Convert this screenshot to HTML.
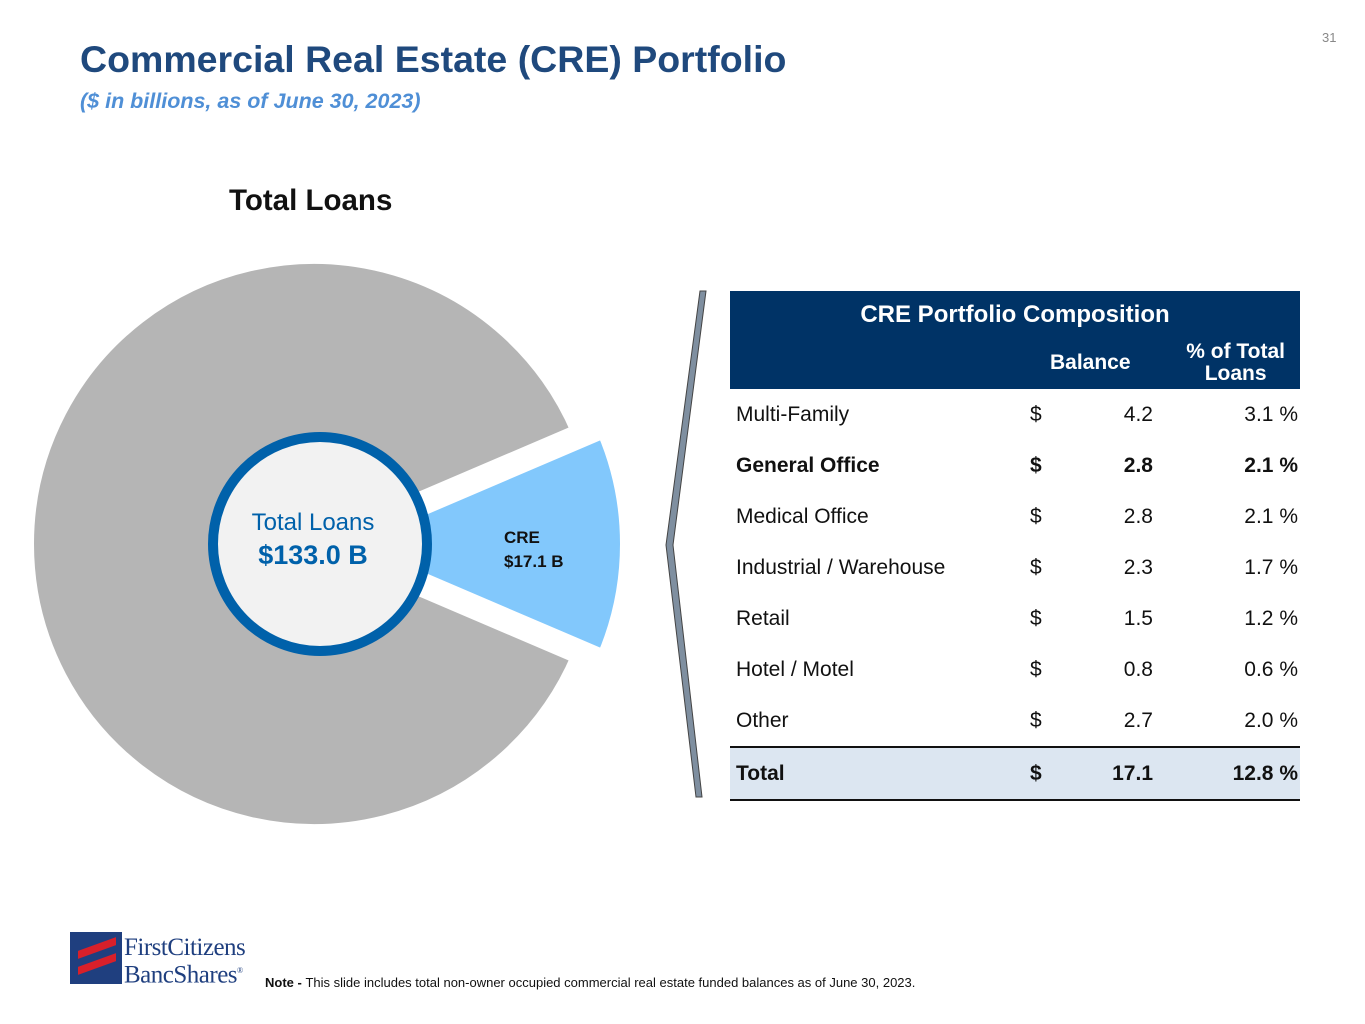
<!DOCTYPE html>
<html><head><meta charset="utf-8"><style>
body{margin:0;width:1365px;height:1024px;background:#fff;position:relative;overflow:hidden;font-family:"Liberation Sans",Arial,sans-serif}
.abs{position:absolute}
table{border-collapse:collapse}
td{font-size:21px;color:#111;height:51px;padding:0}
</style></head><body>
<div class="abs" style="left:1322px;top:30px;font-size:13px;color:#888">31</div>
<div class="abs" style="left:80px;top:38px;font-size:37.5px;font-weight:bold;color:#1f497d">Commercial Real Estate (CRE) Portfolio</div>
<div class="abs" style="left:80px;top:89px;font-size:21.5px;font-weight:bold;font-style:italic;color:#4f8fd6">($ in billions, as of June 30, 2023)</div>
<div class="abs" style="left:229px;top:184px;font-size:29.5px;font-weight:bold;color:#111">Total Loans</div>

<svg class="abs" style="left:0;top:0" width="720" height="850">
<g id="pie"></g>
<circle cx="320" cy="544" r="107" fill="#f2f2f2" stroke="#0061aa" stroke-width="10"/>
<text x="313" y="530" text-anchor="middle" font-size="24" fill="#0061aa">Total Loans</text>
<text x="313" y="564" text-anchor="middle" font-size="27" font-weight="bold" fill="#0061aa">$133.0 B</text>
<text x="504" y="543" font-size="17" font-weight="bold" fill="#111">CRE</text>
<text x="504" y="567" font-size="17" font-weight="bold" fill="#111">$17.1 B</text>
<polygon points="700,291 706,291 673,545 702,797 696,797 666,545" fill="#7f8fa0" stroke="#444" stroke-width="1"/>
</svg>

<div class="abs" style="left:730px;top:291px;width:570px;height:98px;background:#003366;color:#fff">
<div style="position:absolute;left:0;width:570px;top:10px;text-align:center;font-size:24px;font-weight:bold">CRE Portfolio Composition</div>
<div style="position:absolute;left:320px;top:60px;font-size:21px;font-weight:bold">Balance</div>
<div style="position:absolute;right:15px;top:50px;font-size:21px;font-weight:bold;text-align:center;line-height:22px">% of Total<br>Loans</div>
</div>
<table class="abs" style="left:730px;top:389px;width:570px" id="tbl"></table>

<div class="abs" style="left:70px;top:932px;width:52px;height:52px;background:#1f3f7f">
<div style="position:absolute;left:8px;top:12px;width:38px;height:8px;background:#d8202a;transform:skewY(-20deg)"></div>
<div style="position:absolute;left:8px;top:28px;width:38px;height:8px;background:#d8202a;transform:skewY(-20deg)"></div>
</div>
<div class="abs" style="left:124px;top:936px;font-family:'Liberation Serif',serif;font-size:25px;line-height:23px;color:#1f3f7f;letter-spacing:-0.5px">FirstCitizens<br>BancShares<sup style="font-size:8px">®</sup></div>
<div class="abs" style="left:265px;top:975px;font-size:13px;color:#111"><b>Note - </b>This slide includes total non-owner occupied commercial real estate funded balances as of June 30, 2023.</div>

<script>
const pieLabels=["CRE","Other Loans"];
const pieValues=[17.1,115.9];
const rowNames=["Multi-Family","General Office","Medical Office","Industrial / Warehouse","Retail","Hotel / Motel","Other","Total"];
const balances=["4.2","2.8","2.8","2.3","1.5","0.8","2.7","17.1"];
const pcts=["3.1","2.1","2.1","1.7","1.2","0.6","2.0","12.8"];

const NS="http://www.w3.org/2000/svg";
const g=document.getElementById('pie');
const cx=314,cy=544,R=287;
const total=pieValues.reduce((a,b)=>a+b,0);
let start=-pieValues[0]/total*Math.PI;
pieValues.forEach((v,i)=>{
  const a=v/total*2*Math.PI, end=start+a, mid=start+a/2;
  const off=i===0?26:0;
  const ox=cx+off*Math.cos(mid), oy=cy+off*Math.sin(mid);
  const x1=ox+R*Math.cos(start),y1=oy+R*Math.sin(start),x2=ox+R*Math.cos(end),y2=oy+R*Math.sin(end);
  const p=document.createElementNS(NS,'path');
  p.setAttribute('d',`M${ox},${oy}L${x1},${y1}A${R},${R} 0 ${a>Math.PI?1:0} 1 ${x2},${y2}Z`);
  p.setAttribute('fill',i===0?'#82c8fc':'#b5b5b5');
  p.setAttribute('stroke','#fff');p.setAttribute('stroke-width','14');p.setAttribute('stroke-linejoin','round');
  
  
  g.appendChild(p);
  start=end;
});
const tbl=document.getElementById('tbl');
rowNames.forEach((n,i)=>{
  const tr=document.createElement('tr');
  
  
  const bold=(i===1||i===7);
  const last=i===7;
  tr.style.fontWeight=bold?'bold':'normal';
  if(last){tr.style.background='#dce6f1';tr.style.borderTop='2px solid #111';tr.style.borderBottom='2px solid #111';tr.style.height='48px';}
  tr.innerHTML=`<td style="padding-left:6px;width:294px;font-weight:inherit;${last?'height:48px':''}">${n}</td><td style="width:30px;font-weight:inherit">$</td><td style="width:93px;text-align:right;font-weight:inherit">${balances[i]}</td><td style="text-align:right;padding-right:2px;font-weight:inherit">${pcts[i]} %</td>`;
  tbl.appendChild(tr);
});
</script>
</body></html>
